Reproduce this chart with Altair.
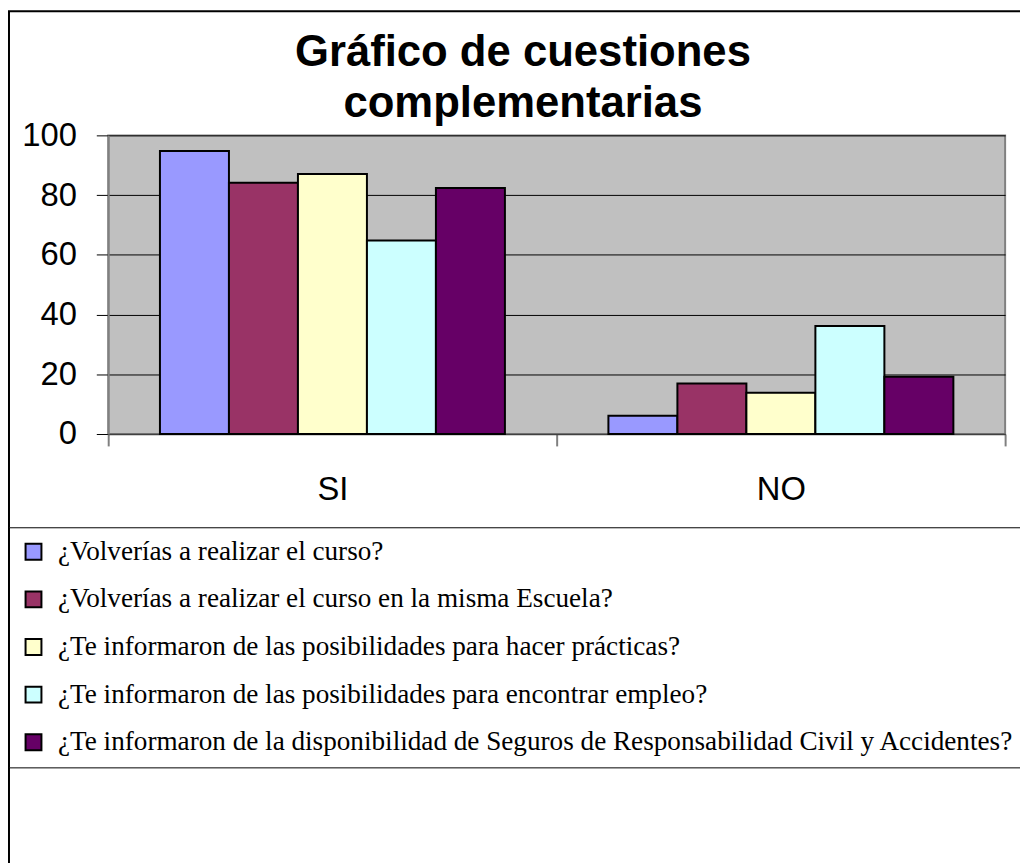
import altair as alt
import pandas as pd

categories = ["SI", "NO"]
questions = [
    "¿Volverías a realizar el curso?",
    "¿Volverías a realizar el curso en la misma Escuela?",
    "¿Te informaron de las posibilidades para hacer prácticas?",
    "¿Te informaron de las posibilidades para encontrar empleo?",
    "¿Te informaron de la disponibilidad de Seguros de Responsabilidad Civil y Accidentes?",
]
si_values = [94.8, 84.1, 87.1, 64.8, 82.4]
no_values = [6.1, 16.9, 13.8, 36.2, 19.2]
colors = ["#9999FF", "#993366", "#FFFFCC", "#CCFFFF", "#660066"]
y_ticks = [0, 20, 40, 60, 80, 100]
title_lines = ["Gráfico de cuestiones", "complementarias"]

rows = []
for q, s, n in zip(questions, si_values, no_values):
    rows.append({"cat": "SI", "q": q, "v": s})
    rows.append({"cat": "NO", "q": q, "v": n})
df = pd.DataFrame(rows)

bars = alt.Chart(df).mark_bar(stroke="black", strokeWidth=2).encode(
    x=alt.X(
        "cat:N",
        sort=categories,
        scale=alt.Scale(paddingInner=0, paddingOuter=0),
        axis=alt.Axis(
            title=None,
            labelAngle=0,
            labelFont="Liberation Sans",
            labelFontSize=33,
            labelColor="black",
            labelPadding=28,
            tickBand="extent",
            tickSize=12,
            tickColor="#808080",
            tickWidth=2,
            domainColor="#404040",
            domainWidth=1.5,
            grid=False,
        ),
    ),
    xOffset=alt.XOffset(
        "q:N", sort=questions, scale=alt.Scale(paddingInner=0, paddingOuter=0.75)
    ),
    y=alt.Y(
        "v:Q",
        scale=alt.Scale(domain=[0, 100], nice=False),
        axis=alt.Axis(
            title=None,
            values=y_ticks,
            format="d",
            labelFont="Liberation Sans",
            labelFontSize=33,
            labelColor="black",
            labelPadding=20,
            tickSize=12,
            tickColor="black",
            tickWidth=1,
            domainColor="#808080",
            domainWidth=2,
            grid=True,
            gridColor="black",
            gridWidth=1,
        ),
    ),
    color=alt.Color(
        "q:N",
        sort=questions,
        scale=alt.Scale(domain=questions, range=colors),
        legend=alt.Legend(
            title=None,
            orient="none",
            legendX=-100,
            legendY=395,
            strokeColor="black",
            fillColor="white",
            padding=11,
            symbolType="square",
            symbolSize=256,
            symbolStrokeColor="black",
            symbolStrokeWidth=2,
            symbolOpacity=1,
            labelFont="Liberation Serif",
            labelFontSize=27.4,
            labelColor="black",
            labelOffset=11,
            labelLimit=2000,
            rowPadding=19,
        ),
    ),
)

frame = alt.Chart(pd.DataFrame({"k": [0]})).mark_rect(
    fillOpacity=0, stroke="black", strokeWidth=2
).encode(
    x=alt.value(-100),
    x2=alt.value(1100),
    y=alt.value(-125),
    y2=alt.value(900),
)

chart = (
    alt.layer(frame, bars)
    .properties(
        width=904,
        height=301,
        padding={"left": 101, "top": 125, "right": 15, "bottom": 429},
        autosize=alt.AutoSizeParams(type="none"),
        title=alt.TitleParams(
            text=title_lines,
            font="Liberation Sans",
            fontWeight="bold",
            fontSize=44,
            lineHeight=52,
            color="black",
            anchor="middle",
            dx=-34,
            dy=125,
            offset=8,
        ),
    )
    .configure(background="white")
    .configure_view(stroke="#808080", strokeWidth=2, fill="#C0C0C0")
)

chart.save("out.html", embed_options={"renderer": "svg", "actions": False})
